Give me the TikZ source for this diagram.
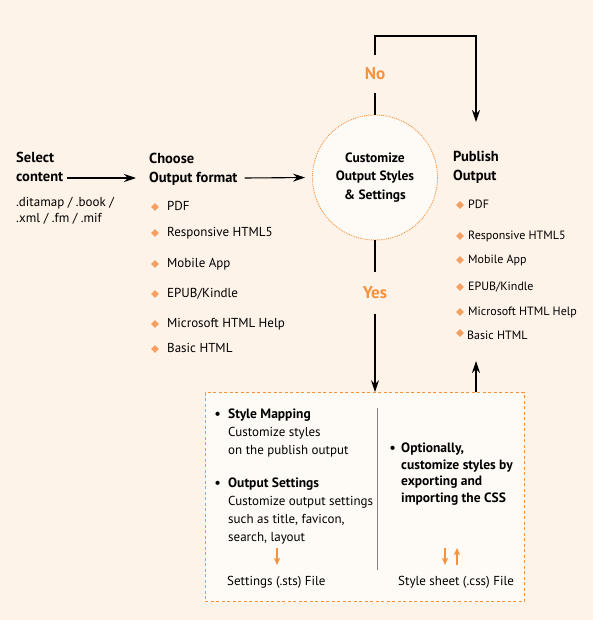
\documentclass[tikz,border=0pt]{standalone}
\usepackage{fontspec}
\setmainfont{PT Sans}
\usetikzlibrary{shapes.geometric,arrows.meta,positioning}
\definecolor{pagecream}{HTML}{FDF3E8}
\definecolor{panelwhite}{HTML}{FEFBF6}
\definecolor{accent}{HTML}{F5923E}
\definecolor{dotorange}{HTML}{F4A062}
\tikzset{
  head/.style={font=\bfseries\fontsize{14.5}{19}\selectfont, align=left, anchor=base west, inner sep=0pt},
  plain/.style={font=\fontsize{13}{16}\selectfont, align=left, anchor=base west, inner sep=0pt},
  small/.style={font=\fontsize{12}{16}\selectfont, anchor=base west, inner sep=0pt},
  boxhead/.style={font=\bfseries\fontsize{13.5}{16.7}\selectfont, align=left, anchor=base west, inner sep=0pt},
  boxtext/.style={font=\fontsize{13}{18}\selectfont, align=left, anchor=base west, inner sep=0pt},
  dot/.style={diamond, fill=dotorange, inner sep=0pt, minimum size=8pt},
  answer/.style={font=\bfseries\fontsize{17}{18}\selectfont, text=accent, inner sep=0pt},
  flow/.style={line width=1.1pt, -{Stealth[length=12pt,width=8pt,inset=4pt]}},
  hint/.style={accent, line width=1.5pt, -{Stealth[length=7pt,width=6pt,inset=1.5pt]}}
}
\begin{document}
\begin{tikzpicture}[x=1pt,y=-1pt]
  \fill[pagecream] (0,0) rectangle (593,620);
  \useasboundingbox (0,0) rectangle (593,620);

  % input
  \node[head] (select) at (16,182) {Select\\content};
  \node[plain] (sources) at (16,222.5) {.ditamap / .book /\\.xml / .fm / .mif};

  % formats
  \node[head] (choose) at (149,183) {Choose\\Output format};
  \node[dot] at (155,207) {};
  \node[plain] (pdfA) at (167,210.5) {PDF};
  \node[dot] at (155,233) {};
  \node[plain] (htmlA) at (167,236.5) {Responsive HTML5};
  \node[dot] at (155,264) {};
  \node[plain] (appA) at (167,267.5) {Mobile App};
  \node[dot] at (155,294) {};
  \node[plain] (epubA) at (167,297.5) {EPUB/Kindle};
  \node[dot] at (155,324) {};
  \node[plain] (chmA) at (167,327.5) {Microsoft HTML Help};
  \node[dot] at (155,349) {};
  \node[plain] (basicA) at (167,352.5) {Basic HTML};

  % customize
  \node[circle, draw=accent, densely dotted, line width=0.9pt, fill=panelwhite,
        minimum size=125pt, align=center,
        font=\bfseries\fontsize{13.5}{18.5}\selectfont] (custom) at (375,177.5)
        {Customize\\Output Styles\\\& Settings};
  \node[answer, minimum height=37pt] (no) at (375,74) {No};
  \node[answer, minimum height=41pt] (yes) at (375,293) {Yes};

  % publish
  \node[head] (publish) at (453,181) {Publish\\Output};
  \node[dot] at (460,205) {};
  \node[small] (pdfB) at (468,208) {PDF};
  \node[dot] at (460,236) {};
  \node[small] (htmlB) at (468,239) {Responsive HTML5};
  \node[dot] at (460,260) {};
  \node[small] (appB) at (468,263) {Mobile App};
  \node[dot] at (460,287) {};
  \node[small] (epubB) at (468,290) {EPUB/Kindle};
  \node[dot] at (460,312) {};
  \node[small] (chmB) at (468,315) {Microsoft HTML Help};
  \node[dot] at (460,333) {};
  \node[small] (basicB) at (467,339) {Basic HTML};

  % style box
  \node[draw=accent, line width=0.9pt, dash pattern=on 3pt off 2.5pt, fill=panelwhite,
        minimum width=319pt, minimum height=209pt, inner sep=0pt] (panel) at (364.5,497) {};
  \draw[gray, line width=0.7pt] (377,408) -- (377,570);
  \node[boxhead] (bulletA) at (214.5,418.5) {\textbullet};
  \node[boxhead] (mapping) at (228,418.5) {Style Mapping};
  \node[boxtext] (mappingnote) at (228,454.5) {Customize styles\\on the publish output};
  \node[boxhead] (bulletB) at (214.5,487.5) {\textbullet};
  \node[boxhead] (settings) at (228,487.5) {Output Settings};
  \node[boxtext] (settingsnote) at (228,541.5) {Customize output settings\\such as title, favicon,\\search, layout};
  \node[boxhead] (bulletC) at (389.5,452.5) {\textbullet};
  \node[boxhead] (optional) at (401,502.5) {Optionally,\\customize styles by\\exporting and\\importing the CSS};
  \node[boxtext] (sts) at (227,585) {Settings (.sts) File};
  \node[boxtext] (css) at (398,585) {Style sheet (.css) File};

  \coordinate (loopturn) at (476,36);
  \coordinate (pubin) at (476,122);
  \coordinate (pubout) at (476,361);

  \begin{scope}
    \draw[flow] ([xshift=4pt,yshift=4pt]select.base east) -- ([xshift=-13pt,yshift=5pt]choose.base west);
    \draw[flow, shorten >=7pt] ([xshift=7pt,yshift=5pt]choose.base east) -- (custom.west);
    \draw[line width=1.1pt] (custom) -- (no);
    \draw[flow] (no) -- (no |- loopturn) -- (loopturn) -- (pubin);
    \draw[line width=1.1pt] (custom) -- (yes);
    \draw[flow] (yes) -- (yes |- panel.north);
    \draw[flow] (pubout |- panel.north) -- (pubout);
    \draw[hint] ([xshift=50pt,yshift=37pt]sts.base west) -- ([xshift=50pt,yshift=20pt]sts.base west);
    \draw[hint] ([xshift=47pt,yshift=37pt]css.base west) -- ([xshift=47pt,yshift=20pt]css.base west);
    \draw[hint] ([xshift=59pt,yshift=20pt]css.base west) -- ([xshift=59pt,yshift=37pt]css.base west);
  \end{scope}
\end{tikzpicture}
\end{document}
